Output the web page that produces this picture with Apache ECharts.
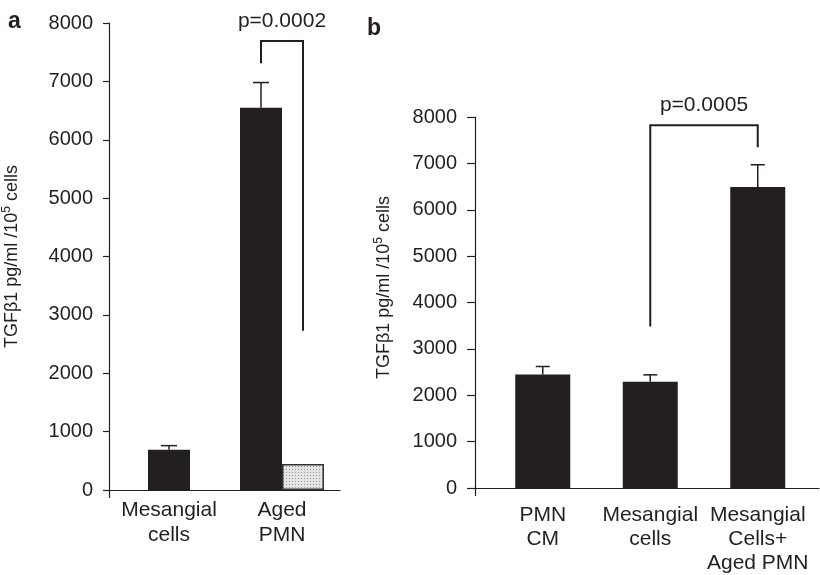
<!DOCTYPE html>
<html><head><meta charset="utf-8">
<script src="https://cdn.jsdelivr.net/npm/echarts@6/dist/echarts.min.js"></script>
<style>html,body{margin:0;padding:0;background:#fff}#c{width:820px;height:575px}</style>
</head><body><div id="c"></div>
<script>
// ---- data ----
const catsA = ['Mesangial\ncells', 'Aged\nPMN'];
const meanA = [690, 6550];
const errA = [70, 430];
const greyA = [null, 445];
const catsB = ['PMN\nCM', 'Mesangial\ncells', 'Mesangial\nCells+\nAged PMN'];
const meanB = [2450, 2290, 6490];
const errB = [170, 150, 480];
const yTicks = ['0', '1000', '2000', '3000', '4000', '5000', '6000', '7000', '8000'];
const pA = 'p=0.0002';
const bracketA = [7310, 7690, 2730];   // left end, top, right end
const pB = 'p=0.0005';
const bracketB = [3480, 7820, 7350];
const yTitle = '{n|TGFβ1 pg/ml /10}{s|5}{n| cells}';

// ---- style ----
const INK = '#231f20';
const FONT = '"Liberation Sans", Arial, sans-serif';
const yMin = +yTicks[0], yMax = +yTicks[yTicks.length - 1], yInt = +yTicks[1] - +yTicks[0];
const barWA = 42, barWB = 55;

const pat = document.createElement('canvas');
pat.width = 3; pat.height = 3;
const pc = pat.getContext('2d');
pc.fillStyle = '#e4e4e4'; pc.fillRect(0, 0, 3, 3);
pc.fillStyle = '#9a9a9a'; pc.fillRect(1, 1, 1, 1);

const titleRich = {
  n: { fontSize: 18, fontFamily: FONT, color: INK, verticalAlign: 'bottom' },
  s: { fontSize: 12, fontFamily: FONT, color: INK, verticalAlign: 'bottom', padding: [0, 0, 8, 0] }
};

function lineAxis(grid) {
  return { gridIndex: grid, type: 'value', min: 0, max: 1, interval: 1,
    axisLine: { show: true, lineStyle: { color: INK, width: 1.2 } },
    axisTick: { show: true, length: 8, customValues: [0], lineStyle: { color: INK, width: 1.2 } },
    axisLabel: { show: false }, splitLine: { show: false } };
}
function visY(grid, tickLen, margin, gap, pad) {
  return { gridIndex: grid, type: 'value', min: yMin, max: yMax, interval: yInt,
    axisLine: { show: true, lineStyle: { color: INK, width: 1.2 } },
    axisTick: { show: true, length: tickLen, lineStyle: { color: INK, width: 1.2 } },
    axisLabel: { margin: margin, fontSize: 20, fontFamily: FONT, color: INK, formatter: (v) => yTicks[Math.round((v - yMin) / yInt)] },
    splitLine: { show: false },
    name: yTitle, nameLocation: 'middle', nameGap: gap, nameRotate: 90,
    nameTextStyle: { rich: titleRich, padding: pad } };
}
function hidY(grid) {
  return { gridIndex: grid, type: 'value', min: yMin, max: yMax, interval: yInt, show: false };
}
function catX(grid, cats, show, margin, lh) {
  return { gridIndex: grid, type: 'category', data: cats, show: show,
    axisLine: { show: false }, axisTick: { show: false },
    axisLabel: { margin: margin, fontSize: 21, lineHeight: lh, fontFamily: FONT, color: INK, interval: 0 } };
}
function errRender(offsetOf, capW) {
  return function (params, api) {
    const i = api.value(0), v = api.value(1), e = api.value(2);
    const a = api.coord([i, v]), b = api.coord([i, v + e]);
    const x = a[0] + offsetOf(i);
    const st = { stroke: INK, lineWidth: 1.5 };
    return { type: 'group', children: [
      { type: 'line', shape: { x1: x, y1: a[1], x2: x, y2: b[1] }, style: st },
      { type: 'line', shape: { x1: x - capW / 2, y1: b[1], x2: x + capW / 2, y2: b[1] }, style: st }
    ] };
  };
}
function bracketRender(lc, rc, dl, dr, lv, label) {
  return function (params, api) {
    const l = api.coord([lc, lv[0]]), t = api.coord([lc, lv[1]]), r = api.coord([rc, lv[2]]);
    const xl = l[0] + dl, xr = r[0] + dr;
    return { type: 'group', children: [
      { type: 'polyline', shape: { points: [[xl, l[1]], [xl, t[1]], [xr, t[1]], [xr, r[1]]] },
        style: { stroke: INK, lineWidth: 2, fill: null } },
      { type: 'text', style: { text: label, x: (xl + xr) / 2, y: t[1] - 20, align: 'center', verticalAlign: 'middle',
        fontSize: 21, fontFamily: FONT, fill: INK } }
    ] };
  };
}

const pairedA = greyA.map(v => v != null);
const option = {
  animation: false,
  backgroundColor: '#fff',
  grid: [
    { left: 108, top: 23, width: 232, height: 467 },
    { left: 112.5, top: 23, width: 226, height: 467 },
    { left: 475, top: 117, width: 344, height: 371 },
    { left: 489, top: 117, width: 322.5, height: 371 }
  ],
  xAxis: [
    lineAxis(0),
    catX(1, catsA, true, 8, 25),
    catX(1, catsA, false, 8, 25),
    lineAxis(2),
    catX(3, catsB, true, 15, 24)
  ],
  yAxis: [
    visY(0, 6, 16, 88, [0, 0, 0, 0]),
    hidY(1),
    visY(2, 8, 18, 82, [0, 0, 0, 30]),
    hidY(3)
  ],
  graphic: [
    { type: 'text', left: 8, top: 10, style: { text: 'a', font: 'bold 23px ' + FONT, fill: INK } },
    { type: 'text', left: 367, top: 17, style: { text: 'b', font: 'bold 23px ' + FONT, fill: INK } }
  ],
  series: [
    { type: 'bar', xAxisIndex: 1, yAxisIndex: 1, barWidth: barWA, itemStyle: { color: INK },
      data: meanA.map((v, i) => pairedA[i] ? '-' : v) },
    { type: 'bar', xAxisIndex: 2, yAxisIndex: 1, barWidth: barWA, barGap: '0%', itemStyle: { color: INK },
      data: meanA.map((v, i) => pairedA[i] ? v : '-') },
    { type: 'bar', xAxisIndex: 2, yAxisIndex: 1, barWidth: barWA, barGap: '0%',
      itemStyle: { color: { image: pat, repeat: 'repeat' }, borderColor: '#333', borderWidth: 1.5 },
      data: greyA.map(v => v == null ? '-' : v) },
    { type: 'custom', xAxisIndex: 1, yAxisIndex: 1, z: 5,
      renderItem: errRender(i => pairedA[i] ? -barWA / 2 : 0, 16),
      data: meanA.map((v, i) => [i, v, errA[i]]) },
    { type: 'custom', xAxisIndex: 1, yAxisIndex: 1, z: 5,
      renderItem: bracketRender(1, 1, -barWA / 2, barWA / 2, bracketA, pA),
      data: [[1, bracketA[1]]] },
    { type: 'bar', xAxisIndex: 4, yAxisIndex: 3, barWidth: barWB, itemStyle: { color: INK }, data: meanB },
    { type: 'custom', xAxisIndex: 4, yAxisIndex: 3, z: 5,
      renderItem: errRender(() => 0, 14),
      data: meanB.map((v, i) => [i, v, errB[i]]) },
    { type: 'custom', xAxisIndex: 4, yAxisIndex: 3, z: 5,
      renderItem: bracketRender(1, 2, 0, 0, bracketB, pB),
      data: [[1, bracketB[1]]] }
  ]
};
const chart = echarts.init(document.getElementById('c'), null, { renderer: 'canvas' });
chart.setOption(option);
</script>
</body></html>
